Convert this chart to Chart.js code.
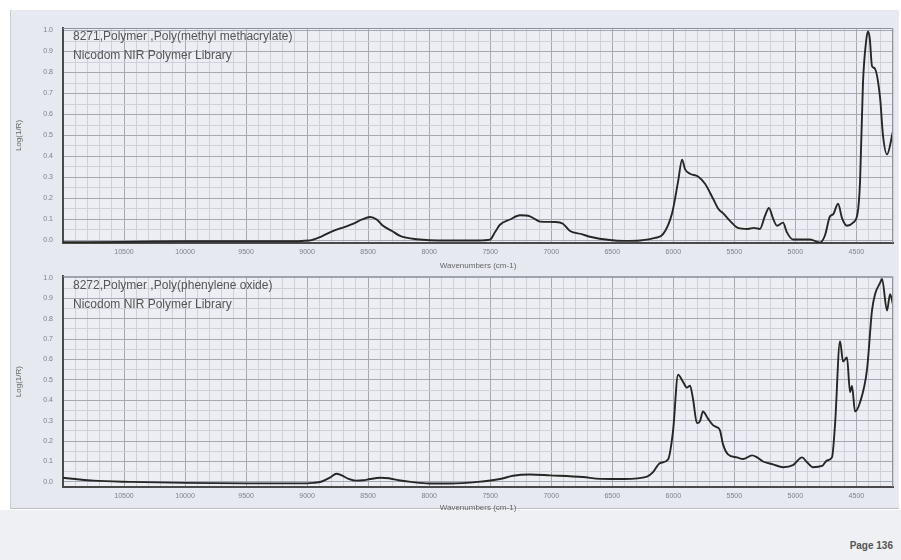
<!DOCTYPE html>
<html>
<head>
<meta charset="utf-8">
<script src="https://cdn.jsdelivr.net/npm/chart.js@4.4.0/dist/chart.umd.min.js"></script>
<style>
body{margin:0;background:#fff;width:901px;height:560px;overflow:hidden;position:relative;font-family:"Liberation Sans",Arial,sans-serif}
#panel{position:absolute;left:10px;top:10px;width:888px;height:498px;background:#e6e9ef;border-left:1px solid #c9cdd6;border-bottom:1px solid #bcc0c9}
#below{position:absolute;left:0;top:510px;width:901px;height:50px;background:#eef0f4}
.box{position:absolute;left:0;width:901px}
#page{position:absolute;right:8px;top:540px;font:bold 10px "Liberation Sans",Arial,sans-serif;color:#555}
</style>
</head>
<body>
<div id="panel"></div>
<div id="below"></div>
<div class="box" style="top:0;height:272px"><canvas id="pmmaChart" width="901" height="272"></canvas></div>
<div class="box" style="top:262px;height:260px"><canvas id="ppoChart" width="901" height="260"></canvas></div>
<div id="page">Page 136</div>
<script>
// wavenumber ticks (cm-1) and log(1/R) ticks
var xTicks = [10500, 10000, 9500, 9000, 8500, 8000, 7500, 7000, 6500, 6000, 5500, 5000, 4500];
var yTicks = [0, 0.1, 0.2, 0.3, 0.4, 0.5, 0.6, 0.7, 0.8, 0.9, 1.0];

// 8271 Poly(methyl methacrylate)
var pmmaWn = [11000, 10800, 10400, 10000, 9600, 9200, 8980, 8880, 8790, 8690, 8620, 8550, 8485, 8430, 8378, 8304, 8239, 8100, 7850, 7600,
  7502, 7460, 7420, 7338, 7256, 7174, 7092, 6969, 6904, 6846, 6750, 6682, 6518, 6400, 6273, 6150, 6084, 6010, 5961, 5928,
  5904, 5863, 5797, 5740, 5675, 5630, 5593, 5530, 5470, 5390, 5340, 5290, 5249, 5216, 5183, 5150, 5101, 5070, 5020, 4880,
  4798, 4757, 4716, 4690, 4650, 4617, 4577, 4527, 4490, 4470, 4446, 4420, 4405, 4390, 4372, 4350, 4306, 4282, 4249, 4200];
var pmmaLog = [-0.008, -0.008, -0.006, -0.004, -0.004, -0.004, 0.0, 0.02, 0.045, 0.065, 0.08, 0.1, 0.112, 0.1, 0.07, 0.045, 0.022, 0.006, 0.0, 0.0,
  0.004, 0.04, 0.075, 0.1, 0.12, 0.115, 0.09, 0.088, 0.08, 0.045, 0.03, 0.018, 0.002, -0.002, 0.0, 0.012, 0.03, 0.13, 0.28, 0.385,
  0.34, 0.318, 0.305, 0.27, 0.2, 0.15, 0.13, 0.09, 0.06, 0.055, 0.06, 0.055, 0.117, 0.155, 0.105, 0.07, 0.085, 0.04, 0.005, 0.005,
  -0.01, 0.025, 0.115, 0.125, 0.175, 0.105, 0.07, 0.085, 0.13, 0.28, 0.75, 0.95, 0.995, 0.96, 0.83, 0.82, 0.68, 0.5, 0.41, 0.52];

// 8272 Poly(phenylene oxide)
var ppoWn = [11000, 10900, 10750, 10450, 10000, 9500, 9000, 8950, 8880, 8810, 8760, 8720, 8660, 8600, 8540, 8485, 8400, 8330, 8250, 8150,
  8000, 7830, 7600, 7420, 7313, 7174, 7010, 6740, 6600, 6400, 6215, 6166, 6109, 6043, 6002, 5961, 5920, 5888, 5863, 5838,
  5806, 5781, 5757, 5716, 5675, 5642, 5617, 5593, 5552, 5478, 5429, 5355, 5314, 5265, 5183, 5101, 5019, 4945, 4904, 4855,
  4781, 4741, 4700, 4675, 4634, 4609, 4577, 4552, 4536, 4511, 4470, 4413, 4372, 4347, 4306, 4290, 4249, 4224, 4200];
var ppoLog = [0.02, 0.014, 0.006, 0.0, -0.005, -0.007, -0.007, -0.005, 0.002, 0.022, 0.04, 0.033, 0.015, 0.006, 0.008, 0.014, 0.02, 0.018, 0.008, 0.0,
  -0.008, -0.008, 0.0, 0.014, 0.03, 0.036, 0.032, 0.024, 0.015, 0.014, 0.026, 0.048, 0.092, 0.11, 0.25, 0.525, 0.49, 0.462, 0.472, 0.405,
  0.288, 0.298, 0.345, 0.31, 0.278, 0.268, 0.252, 0.185, 0.135, 0.12, 0.112, 0.13, 0.12, 0.1, 0.086, 0.072, 0.082, 0.12, 0.096, 0.072,
  0.078, 0.105, 0.12, 0.28, 0.69, 0.59, 0.61, 0.44, 0.47, 0.345, 0.39, 0.55, 0.84, 0.92, 0.975, 0.995, 0.84, 0.92, 0.87];

var xMin = 4200, xMax = 11000;

function minorTicks(lo, hi, step, major){
	var out = [];
	for (var v = lo; v <= hi + 1e-9; v += step) {
		var r = Math.round(v / step) * step;
		if (Math.abs(r / major - Math.round(r / major)) > 1e-6) out.push({value: r});
	}
	return out;
}

var framePlugin = {
	id: 'frame',
	beforeDraw: function(chart){
		var a = chart.chartArea, ctx = chart.ctx;
		ctx.save();
		ctx.fillStyle = '#eceef3';
		ctx.fillRect(a.left, a.top, a.right - a.left, a.bottom - a.top);
		ctx.restore();
	},
	afterDraw: function(chart){
		var a = chart.chartArea, ctx = chart.ctx, t = chart.options.plugins.frame;
		ctx.save();
		ctx.strokeStyle = '#8d929c';
		ctx.lineWidth = 1;
		ctx.beginPath();
		ctx.moveTo(a.left, a.top + 0.5);
		ctx.lineTo(a.right - 0.5, a.top + 0.5);
		ctx.lineTo(a.right - 0.5, a.bottom);
		ctx.stroke();
		ctx.fillStyle = '#555';
		ctx.font = '12px "Liberation Sans", Arial, sans-serif';
		ctx.textBaseline = 'middle';
		ctx.fillText(t.line1, a.left + 10, a.top + t.dy);
		ctx.fillText(t.line2, a.left + 10, a.top + t.dy + 19);
		ctx.restore();
	}
};

function setSpectrum(canvasId, wn, vals, title, yMin, yMax, pad, xHeight){
	var pts = wn.map(function(w, i){ return {x: w, y: vals[i]}; });
	new Chart(document.getElementById(canvasId), {
		type: 'line',
		data: {
			datasets: [{
				data: pts,
				borderColor: '#262626',
				borderWidth: 1.9,
				pointRadius: 0,
				fill: false,
				cubicInterpolationMode: 'monotone'
			}]
		},
		plugins: [framePlugin],
		options: {
			responsive: false,
			animation: false,
			layout: {padding: pad},
			plugins: {
				legend: {display: false},
				tooltip: {enabled: false},
				frame: {line1: title, line2: 'Nicodom NIR Polymer Library', dy: 9}
			},
			scales: {
				x: {
					type: 'linear', reverse: true, min: xMin, max: xMax, position: 'bottom',
					afterBuildTicks: function(s){ s.ticks = xTicks.map(function(v){ return {value: v}; }); },
					afterFit: function(s){ s.height = xHeight; },
					ticks: {autoSkip: false, maxRotation: 0, padding: 5, color: '#7d828b',
						font: {size: 7, family: 'Liberation Sans'}, callback: function(v){ return String(v); }},
					grid: {color: '#a4a9b3', lineWidth: 1, drawTicks: false},
					border: {color: '#4a4a4a', width: 2},
					title: {display: true, text: 'Wavenumbers (cm-1)', color: '#666',
						font: {size: 8, family: 'Liberation Sans'}, padding: {top: 0, bottom: 0}}
				},
				xm: {
					type: 'linear', reverse: true, min: xMin, max: xMax, position: 'bottom',
					afterBuildTicks: function(s){ s.ticks = minorTicks(xMin, xMax, 100, 500); },
					afterFit: function(s){ s.height = 0; },
					ticks: {display: false},
					grid: {color: '#cdd1d9', lineWidth: 1, drawTicks: false},
					border: {display: false}
				},
				y: {
					min: yMin, max: yMax,
					afterBuildTicks: function(s){ s.ticks = yTicks.map(function(v){ return {value: v}; }); },
					afterFit: function(s){ s.width = 53; },
					ticks: {padding: 10, color: '#7d828b', font: {size: 7, family: 'Liberation Sans'},
						callback: function(v){ return Number(v).toFixed(1); }},
					grid: {color: '#a4a9b3', lineWidth: 1, drawTicks: false},
					border: {color: '#4a4a4a', width: 2},
					title: {display: true, text: 'Log(1/R)', color: '#666',
						font: {size: 8, family: 'Liberation Sans'}, padding: {top: 4, bottom: 2}}
				},
				ym: {
					min: yMin, max: yMax, position: 'left',
					afterBuildTicks: function(s){ s.ticks = minorTicks(0, 1, 0.05, 0.1); },
					afterFit: function(s){ s.width = 0; },
					ticks: {display: false},
					grid: {color: '#cdd1d9', lineWidth: 1, drawTicks: false},
					border: {display: false}
				}
			}
		}
	});
}

setSpectrum('pmmaChart', pmmaWn, pmmaLog, '8271,Polymer ,Poly(methyl methacrylate)', -0.012, 1.012,
	{left: 10, right: 8, top: 28, bottom: 1}, 28);
setSpectrum('ppoChart', ppoWn, ppoLog, '8272,Polymer ,Poly(phenylene oxide)', -0.025, 1.008,
	{left: 10, right: 8, top: 10, bottom: 9}, 26);
</script>
</body>
</html>
